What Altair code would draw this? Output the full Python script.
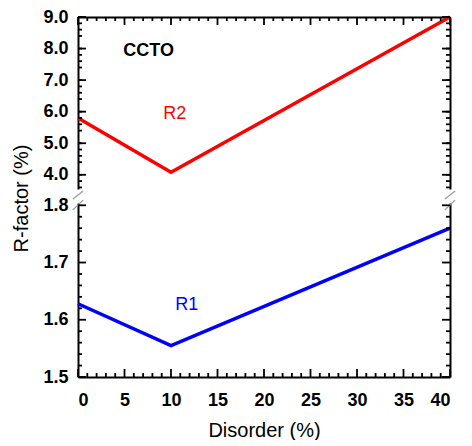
import altair as alt
import pandas as pd

# ---- data ----
disorder = [0, 10, 40]
r2_values = [5.8, 4.08, 9.0]
r1_values = [1.628, 1.555, 1.76]

x_major = [0, 5, 10, 15, 20, 25, 30, 35, 40]
x_minor = [v for v in range(0, 41) if v % 5 != 0]
upper_major = [4.0, 5.0, 6.0, 7.0, 8.0, 9.0]
upper_minor = [round(3.6 + 0.2 * i, 1) for i in range(28) if (i + 2) % 5 != 0]
lower_major = [1.5, 1.6, 1.7, 1.8]
lower_minor = [round(1.5 + 0.02 * i, 2) for i in range(16) if i % 5 != 0]

upper_domain = [3.55, 9.0]
lower_domain = [1.5, 1.804]

note_text = ["CCTO"]
note_x = [7.6]
note_y = [7.76]
r2_label = ["R2"]
r2_label_x = [10.4]
r2_label_y = [5.78]
r1_label = ["R1"]
r1_label_x = [11.7]
r1_label_y = [1.617]

FONT = "Liberation Sans"
W, H1, H2 = 372, 172, 174
MAJ, MIN = 8.0, 4.0  # tick lengths in pixels


def tick_frame(ydom, ymajor, yminor, H, xside):
    """Inward ticks expressed in data units so they pass through the scales."""
    xpx = W / 40.0
    ypx = H / (ydom[1] - ydom[0])
    a, b, c, d = [], [], [], []
    for vals, L in ((ymajor, MAJ), (yminor, MIN)):
        for v in vals:
            a += [0.0, 40.0]
            b += [L / xpx, 40.0 - L / xpx]
            c += [float(v), float(v)]
            d += [float(v), float(v)]
    edge = ydom[1] if xside == "top" else ydom[0]
    sgn = -1 if xside == "top" else 1
    for vals, L in ((x_major, MAJ), (x_minor, MIN)):
        for v in vals:
            a.append(float(v))
            b.append(float(v))
            c.append(float(edge))
            d.append(float(edge + sgn * L / ypx))
    return pd.DataFrame({"tx1": a, "tx2": b, "ty1": c, "ty2": d})


def panel(df, color, ydom, ymajor, yminor, H, is_top, labels):
    xs = alt.Scale(domain=[0, 40], nice=False, zero=False)
    ys = alt.Scale(domain=ydom, nice=False, zero=False)
    base = alt.Chart(df)
    if is_top:
        x_main = alt.Axis(orient="top", values=x_major, labels=False, ticks=False,
                          domain=True, grid=False, title=None)
        y_main = alt.Axis(orient="left", values=ymajor, format=".1f", ticks=False,
                          domain=True, grid=False, labelPadding=10, title="R-factor (%)",
                          titleX=-57, titleY=181, titleAngle=270, titleAlign="center",
                          titleBaseline="middle")
        xside = "top"
    else:
        x_main = alt.Axis(orient="bottom", values=x_major, labels=True, ticks=False,
                          domain=True, grid=False, labelPadding=14, title="Disorder (%)",
                          titlePadding=11)
        y_main = alt.Axis(orient="left", values=ymajor, format=".1f", ticks=False,
                          domain=True, grid=False, labelPadding=10, title=None)
        xside = "bottom"

    main = base.mark_line(color=color, strokeWidth=3.5).encode(
        x=alt.X("x:Q", scale=xs, axis=x_main),
        y=alt.Y("y:Q", scale=ys, axis=y_main),
    )
    right_line = base.mark_line(opacity=0).encode(
        x=alt.X("x:Q", scale=xs, axis=None),
        y=alt.Y("y:Q", scale=ys, axis=alt.Axis(orient="right", values=ymajor,
                                               labels=False, ticks=False, domain=True,
                                               grid=False, title=None)),
    )
    ticks = alt.Chart(tick_frame(ydom, ymajor, yminor, H, xside)).mark_rule(
        color="#000000", strokeWidth=1.8, opacity=1).encode(
        x=alt.X("tx1:Q", scale=xs, axis=None), x2="tx2:Q",
        y=alt.Y("ty1:Q", scale=ys, axis=None), y2="ty2:Q",
    )
    layers = [main, right_line]

    for ldf, lcolor, lsize, lweight in labels:
        layers.append(
            alt.Chart(ldf).mark_text(font=FONT, fontSize=lsize, fontWeight=lweight,
                                     color=lcolor, align="center",
                                     baseline="alphabetic").encode(
                x=alt.X("x:Q", scale=xs, axis=None),
                y=alt.Y("y:Q", scale=ys, axis=None),
                text="t:N",
            )
        )
    if not is_top:
        # axis-break slashes (drawn through the scales)
        brk = pd.DataFrame({
            "x1": [-0.55, -0.55, 39.45, 39.45],
            "x2": [0.55, 0.55, 40.55, 40.55],
            "y1": [1.811, 1.792, 1.811, 1.792],
            "y2": [1.825, 1.809, 1.825, 1.809],
        })
        layers.append(
            alt.Chart(brk).mark_rule(color="#9a9a9a", strokeWidth=1.3).encode(
                x=alt.X("x1:Q", scale=xs, axis=None), x2="x2:Q",
                y=alt.Y("y1:Q", scale=ys, axis=None), y2="y2:Q",
            )
        )
    layers.append(ticks)
    return alt.layer(*layers).resolve_axis(x="independent", y="independent").properties(
        width=W, height=H)


r2_df = pd.DataFrame({"x": disorder, "y": r2_values})
r1_df = pd.DataFrame({"x": disorder, "y": r1_values})

upper_labels = [
    (pd.DataFrame({"x": note_x, "y": note_y, "t": note_text}), "black", 18, "bold"),
    (pd.DataFrame({"x": r2_label_x, "y": r2_label_y, "t": r2_label}), "#ff0000", 18, "normal"),
]
lower_labels = [
    (pd.DataFrame({"x": r1_label_x, "y": r1_label_y, "t": r1_label}), "#0000ff", 18, "normal"),
]

upper = panel(r2_df, "#ff0000", upper_domain, upper_major, upper_minor, H1, True,
              upper_labels)
lower = panel(r1_df, "#0000ff", lower_domain, lower_major, lower_minor, H2, False,
              lower_labels)

chart = alt.vconcat(upper, lower, spacing=14, bounds="flush").properties(
    padding={"top": 0, "left": 3, "right": 0, "bottom": 0},
    background="white",
).configure_axis(
    labelFont=FONT, labelFontSize=18, labelFontWeight="bold", labelColor="black",
    titleFont=FONT, titleFontSize=20, titleFontWeight="normal", titleColor="black",
    domainColor="black", domainWidth=2, tickColor="black", tickWidth=1.5, grid=False,
).configure_view(stroke=None)

chart.save("out.html", embed_options={"renderer": "svg", "actions": False})
